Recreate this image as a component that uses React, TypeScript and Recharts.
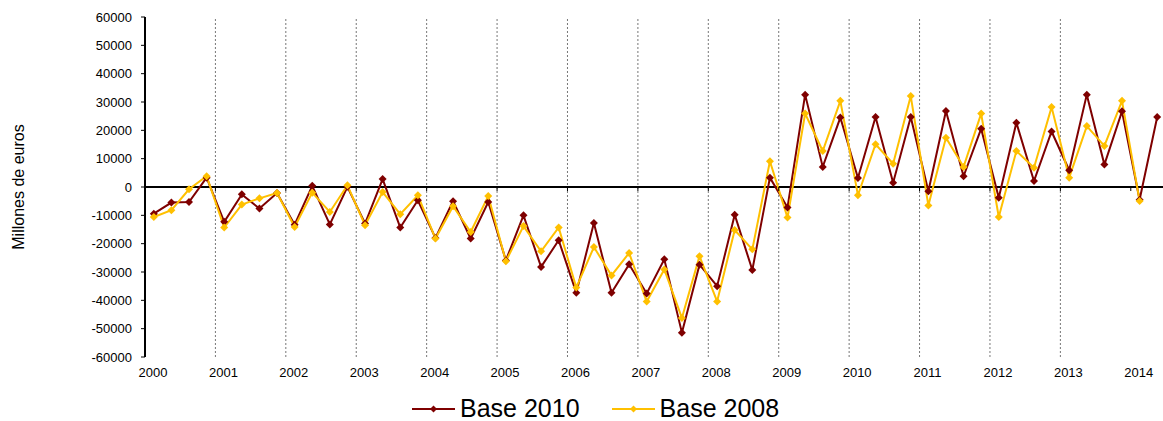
import React from 'react';
import {
  LineChart,
  Line,
  XAxis,
  YAxis,
  ReferenceLine,
  Label,
} from 'recharts';

// Saldo trimestral, millones de euros (2000T1 - 2014T2)
const YEAR_LABELS = [
  '2000', '2001', '2002', '2003', '2004', '2005', '2006', '2007',
  '2008', '2009', '2010', '2011', '2012', '2013', '2014',
];

const BASE_2010 = [
  -9400, -5500, -5300, 3300,
  -12300, -2600, -7600, -2100,
  -13300, 400, -13200, 100,
  -12900, 2800, -14300, -4700,
  -18000, -5000, -18200, -5300,
  -25900, -10000, -28200, -18800,
  -37300, -12700, -37300, -27300,
  -37600, -25500, -51400, -27400,
  -35000, -9800, -29300, 3300,
  -7200, 32600, 7100, 24500,
  3200, 24700, 1500, 24700,
  -1500, 26800, 3800, 20600,
  -3800, 22700, 2100, 19600,
  5900, 32600, 7900, 26700,
  -4500, 24700,
];

const BASE_2008 = [
  -10600, -8200, -800, 3800,
  -14300, -6200, -4000, -2100,
  -14100, -2000, -8800, 600,
  -13500, -1800, -9600, -2900,
  -18200, -6800, -15900, -3200,
  -26200, -13800, -22700, -14300,
  -35500, -21200, -31200, -23300,
  -40400, -29100, -46200, -24400,
  -40400, -15200, -22000, 9100,
  -10800, 25900, 12700, 30400,
  -2900, 15100, 8200, 32100,
  -6500, 17400, 7100, 25900,
  -10600, 12700, 6800, 28200,
  3300, 21500, 14500, 30400,
  -4900,
];

const Y_TICKS = [
  -60000, -50000, -40000, -30000, -20000, -10000, 0,
  10000, 20000, 30000, 40000, 50000, 60000,
];

const SERIES = [
  { key: 'base2010', name: 'Base 2010', color: '#7f0000' },
  { key: 'base2008', name: 'Base 2008', color: '#ffc000' },
];

const FONT = '"Liberation Sans", Arial, sans-serif';
const WIDTH = 1163;
const HEIGHT = 421;
const MARGIN = { top: 17, right: -3, bottom: 34, left: 0 };
const X_AXIS_HEIGHT = 30;
const ZERO_Y = (MARGIN.top + (HEIGHT - MARGIN.bottom - X_AXIS_HEIGHT)) / 2;

// 4 quarters per year, points sit in the middle of each quarter
const data = BASE_2010.map((v, i) => ({
  x: i + 0.5,
  base2010: v,
  base2008: i < BASE_2008.length ? BASE_2008[i] : null,
}));

const yearTicks = YEAR_LABELS.map((_, i) => i * 4);
const gridYears = yearTicks.slice(1, -1);

const diamond = (cx: number, cy: number, r: number) =>
  `${cx},${cy - r} ${cx + r},${cy} ${cx},${cy + r} ${cx - r},${cy}`;

const renderDot = (color: string) => (props: any) => {
  const { cx, cy, index } = props;
  if (cx == null || cy == null || props.value == null) return <g key={`d-${index}`} />;
  return <polygon key={`d-${index}`} points={diamond(cx, cy, 4)} fill={color} />;
};

const XTick = (props: any) => {
  const { x, y, payload } = props;
  const label = YEAR_LABELS[Math.round(payload.value / 4)];
  return (
    <g>
      <line x1={x} x2={x} y1={ZERO_Y} y2={ZERO_Y + 4} stroke="#000" strokeWidth={1} />
      <text x={x + 8} y={y + 20} textAnchor="middle" fontSize={13} fill="#000" fontFamily={FONT}>
        {label}
      </text>
    </g>
  );
};

const YTitle = () => (
  <text
    x={18}
    y={187}
    transform="rotate(-90 18 187)"
    textAnchor="middle"
    dominantBaseline="central"
    fontSize={16}
    fill="#000"
    fontFamily={FONT}
  >
    Millones de euros
  </text>
);

export default function App() {
  return (
    <div style={{ position: 'absolute', left: 0, top: 0, width: WIDTH, height: HEIGHT, background: '#fff', overflow: 'hidden' }}>
      <LineChart width={WIDTH} height={HEIGHT} data={data} margin={MARGIN}>
        <XAxis
          type="number"
          dataKey="x"
          domain={[0, 58]}
          ticks={yearTicks}
          interval={0}
          height={X_AXIS_HEIGHT}
          axisLine={false}
          tickLine={false}
          tickSize={0}
          tickMargin={0}
          tick={<XTick />}
          allowDataOverflow
        />
        <YAxis
          type="number"
          domain={[-60000, 60000]}
          ticks={Y_TICKS}
          interval={0}
          width={145}
          axisLine={{ stroke: '#000', strokeWidth: 2 }}
          tickLine={{ stroke: '#000', strokeWidth: 1 }}
          tickSize={4}
          tickMargin={9}
          tick={{ fontSize: 13, fill: '#000', fontFamily: FONT }}
        >
          <Label content={<YTitle />} />
        </YAxis>
        {gridYears.map((gx) => (
          <ReferenceLine key={gx} x={gx} stroke="#777" strokeWidth={1} strokeDasharray="2 2" />
        ))}
        <ReferenceLine y={0} stroke="#000" strokeWidth={2} />
        {SERIES.map((s) => (
          <Line
            key={s.key}
            type="linear"
            dataKey={s.key}
            name={s.name}
            stroke={s.color}
            strokeWidth={2}
            dot={renderDot(s.color)}
            activeDot={false}
            connectNulls={false}
            isAnimationActive={false}
          />
        ))}
      </LineChart>
      <div
        style={{
          position: 'absolute',
          left: 412,
          top: 396,
          display: 'flex',
          fontFamily: FONT,
          fontSize: 25,
          lineHeight: '25px',
          height: 25,
          color: '#000',
        }}
      >
        {SERIES.map((s, i) => (
          <span key={s.key} style={{ display: 'inline-flex', alignItems: 'center', marginLeft: i === 0 ? 0 : 32 }}>
            <svg width={43} height={10}>
              <line x1={0} x2={43} y1={5} y2={5} stroke={s.color} strokeWidth={2} />
              <polygon points={diamond(21.5, 5, 3.5)} fill={s.color} />
            </svg>
            <span style={{ marginLeft: 5 }}>{s.name}</span>
          </span>
        ))}
      </div>
    </div>
  );
}
